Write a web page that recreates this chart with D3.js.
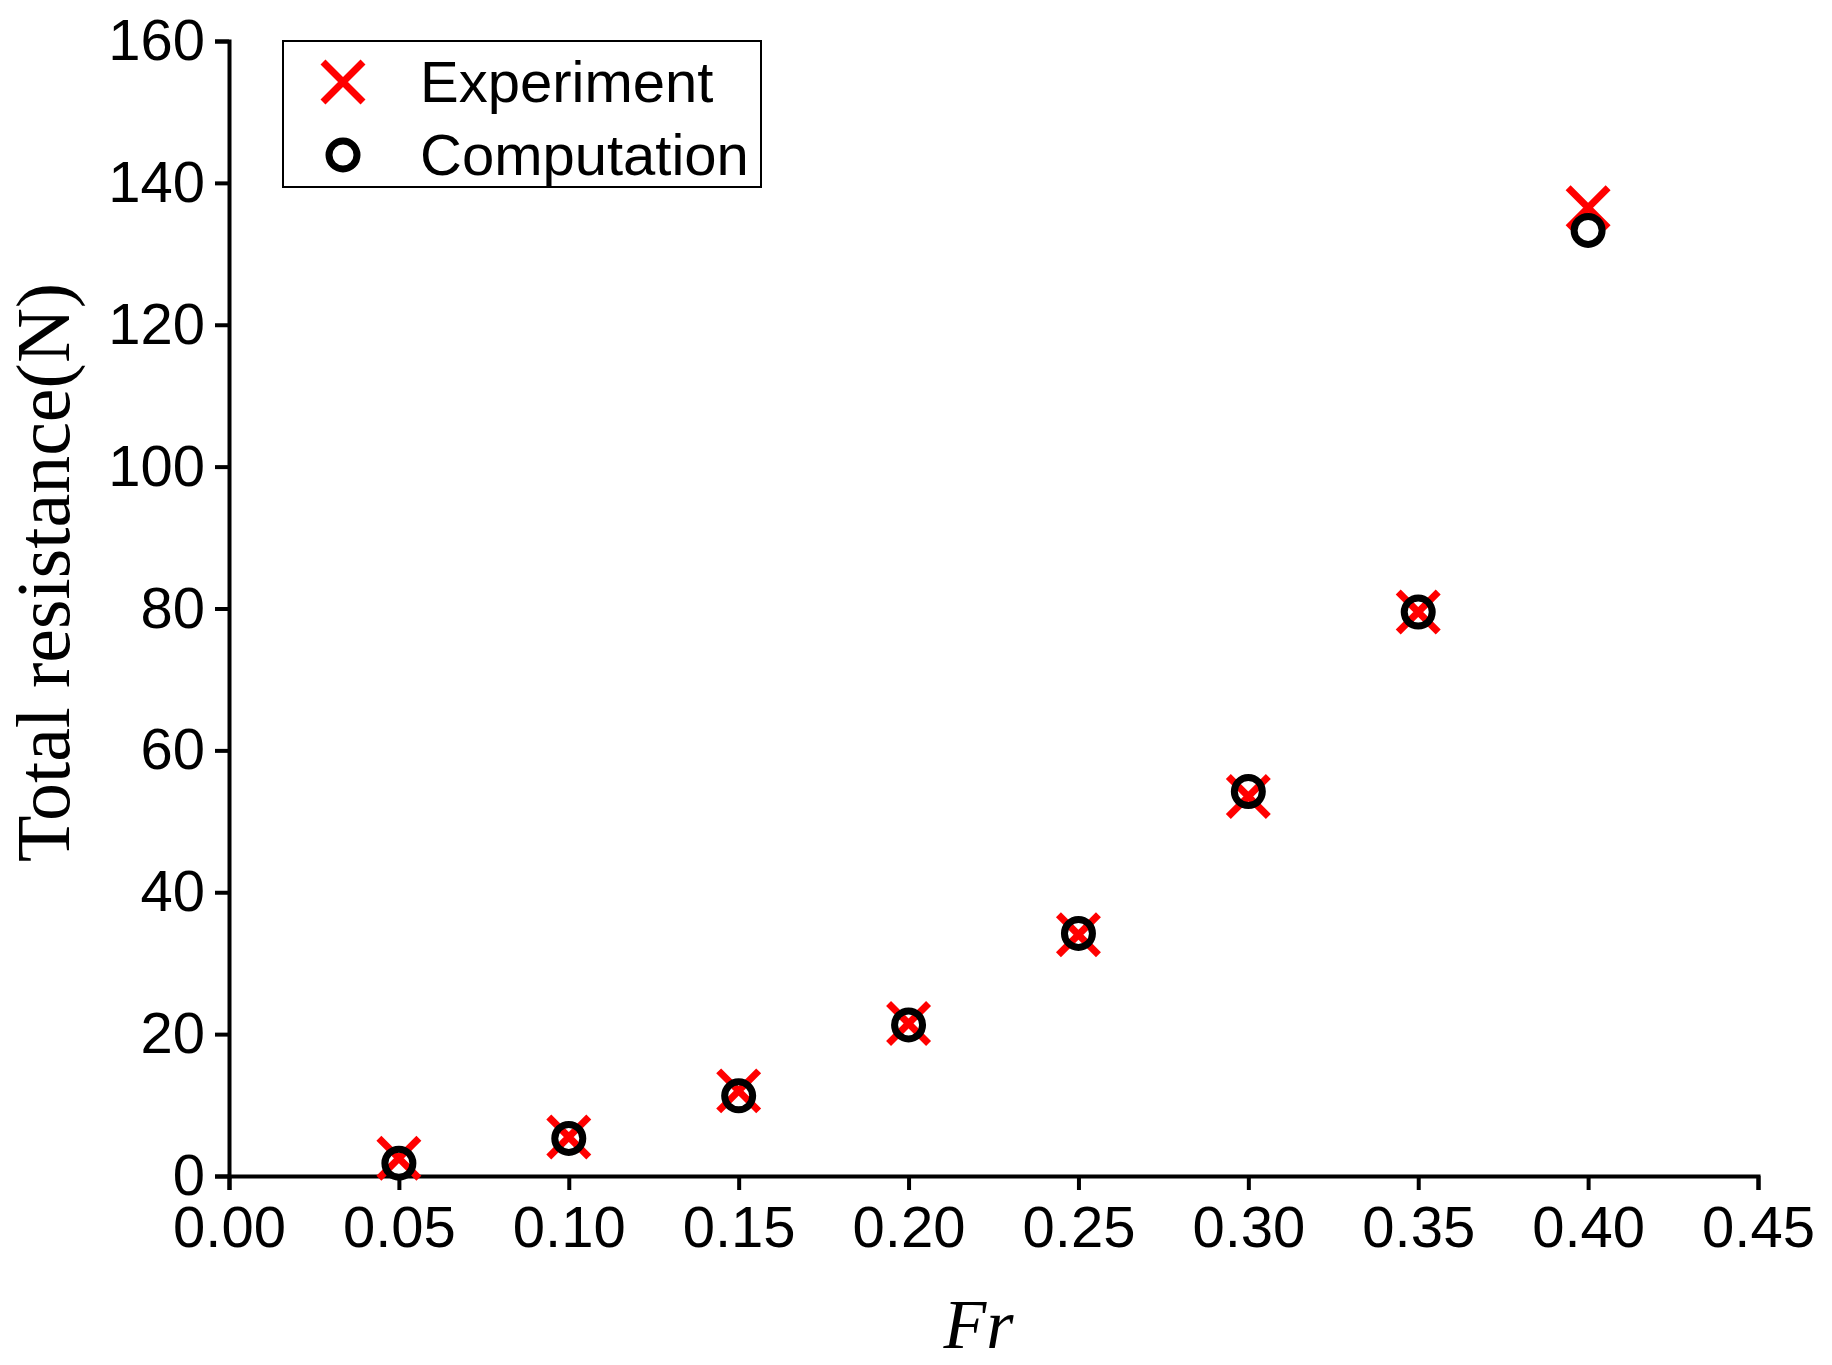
<!DOCTYPE html>
<html><head><meta charset="utf-8">
<script src="https://cdn.jsdelivr.net/npm/d3@7"></script>
<style>body{margin:0;background:#fff}</style></head>
<body><div id="chart"></div>
<script>
var fr = [0.05, 0.10, 0.15, 0.20, 0.25, 0.30, 0.35, 0.40];
var experiment = [2.5, 5.5, 12.0, 21.5, 34.0, 53.5, 79.5, 136.5];
var computation = [1.8, 5.3, 11.3, 21.3, 34.2, 54.2, 79.5, 133.3];
var xTicks = [0, 0.05, 0.10, 0.15, 0.20, 0.25, 0.30, 0.35, 0.40, 0.45];
var yTicks = [0, 20, 40, 60, 80, 100, 120, 140, 160];

var svgWidth = 1832, svgHeight = 1365;
var margin = {top: 41, right: 74, bottom: 189, left: 229};
var width = svgWidth - margin.left - margin.right;
var height = svgHeight - margin.top - margin.bottom;

var svg = d3.select('#chart').append('svg').attr('width', svgWidth).attr('height', svgHeight);
var g = svg.append('g').attr('transform', `translate(${margin.left}, ${margin.top})`);

var x = d3.scaleLinear().domain([0, 0.45]).range([0, width]);
var y = d3.scaleLinear().domain([0, 160]).range([height, 0]);

var font = 'Arial, "Liberation Sans", sans-serif';

var xAxis = g.append('g').attr('transform', `translate(0, ${height})`)
	.call(d3.axisBottom(x).tickValues(xTicks).tickFormat(d3.format('.2f')).tickSize(14).tickPadding(16));
var yAxis = g.append('g')
	.call(d3.axisLeft(y).tickValues(yTicks).tickSize(14).tickPadding(10));
[xAxis, yAxis].forEach(function(a) {
	a.select('.domain').attr('stroke', '#000').attr('stroke-width', 4);
	a.selectAll('.tick line').attr('stroke', '#000').attr('stroke-width', 4);
	a.selectAll('.tick text').attr('font-family', font).attr('font-size', 58).attr('fill', '#000');
});

g.append('text').attr('x', width / 2 - 15).attr('y', height + 172)
	.attr('text-anchor', 'middle').attr('font-family', '"Liberation Serif", "Times New Roman", serif')
	.attr('font-style', 'italic').attr('font-size', 70).text('Fr');
g.append('text').attr('transform', `translate(-160, ${height / 2 - 36}) rotate(-90)`)
	.attr('text-anchor', 'middle').attr('font-family', '"Liberation Serif", "Times New Roman", serif')
	.attr('font-size', 76).text('Total resistance(N)');

var data = fr.map(function(f, i) { return {fr: f, exp: experiment[i], comp: computation[i]}; });
var xs = 20;
function cross(sel) {
	sel.append('path').attr('d', `M${-xs},${-xs}L${xs},${xs}M${-xs},${xs}L${xs},${-xs}`)
		.attr('stroke', '#ff0000').attr('stroke-width', 7).attr('fill', 'none');
}
function ring(sel) {
	sel.append('circle').attr('r', 14).attr('fill', 'none').attr('stroke', '#000').attr('stroke-width', 7);
}
g.selectAll('.exp').data(data).enter().append('g').attr('class', 'exp')
	.attr('transform', (d) => `translate(${x(d.fr)}, ${y(d.exp)})`).call(cross);
g.selectAll('.comp').data(data).enter().append('g').attr('class', 'comp')
	.attr('transform', (d) => `translate(${x(d.fr)}, ${y(d.comp)})`).call(ring);

// Legend
var lg = svg.append('g').attr('transform', 'translate(283, 41)');
lg.append('rect').attr('width', 478).attr('height', 146).attr('fill', '#fff').attr('stroke', '#000').attr('stroke-width', 2);
lg.append('g').attr('transform', 'translate(60, 41)').call(cross);
lg.append('g').attr('transform', 'translate(60, 114)').call(ring);
lg.append('text').attr('x', 137).attr('y', 61).attr('font-family', font).attr('font-size', 58).text('Experiment');
lg.append('text').attr('x', 137).attr('y', 134).attr('font-family', font).attr('font-size', 58).text('Computation');
</script></body></html>
